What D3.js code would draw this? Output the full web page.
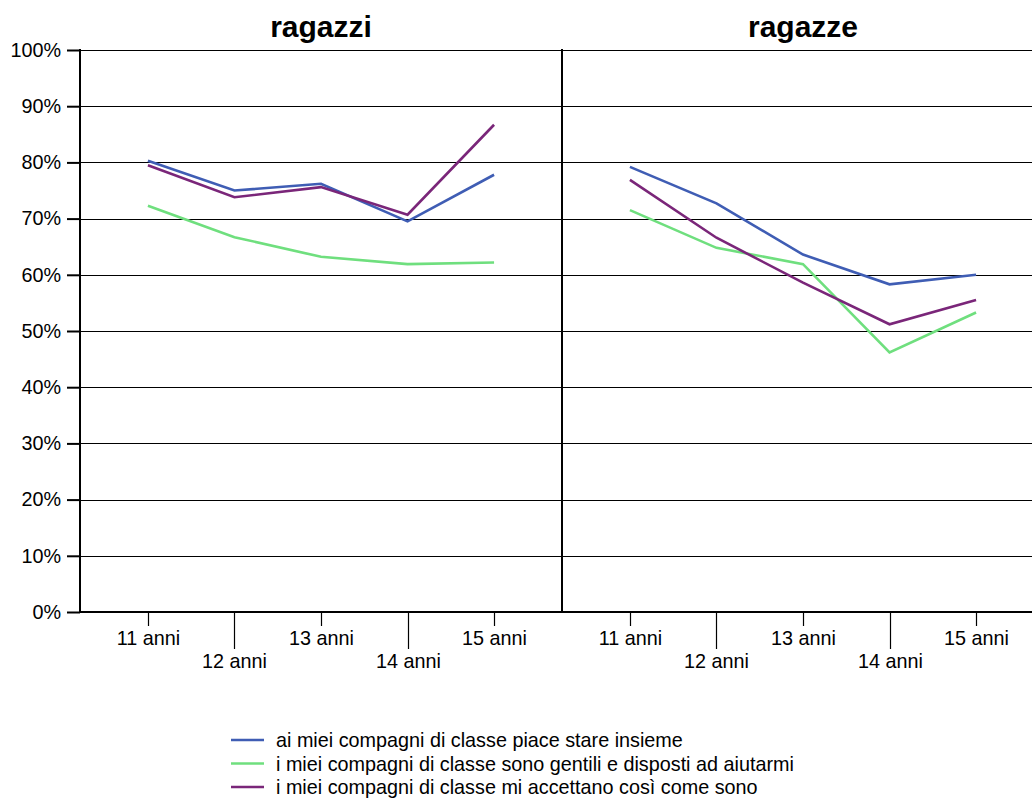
<!DOCTYPE html>
<html><head><meta charset="utf-8">
<script src="https://cdn.jsdelivr.net/npm/d3@7"></script>
<style>body{margin:0;background:#fff;overflow:hidden}text{font-family:"Liberation Sans",Arial,sans-serif;fill:#000}</style>
</head><body><svg id="c" width="1032" height="798"></svg>
<script>
const categories = ["11 anni","12 anni","13 anni","14 anni","15 anni"];
const panels = ["ragazzi","ragazze"];
const seriesNames = [
  "ai miei compagni di classe piace stare insieme",
  "i miei compagni di classe sono gentili e disposti ad aiutarmi",
  "i miei compagni di classe mi accettano così come sono"
];
const colors = ["#3f5db4","#6fdf7e","#7a2679"];
const yTicks = [0,10,20,30,40,50,60,70,80,90,100];
// ragazzi
const boysPiace    = [80.3, 75.0, 76.2, 69.5, 77.8];
const boysGentili  = [72.3, 66.7, 63.2, 61.9, 62.2];
const boysAccettano= [79.5, 73.8, 75.6, 70.7, 86.7];
// ragazze
const girlsPiace    = [79.2, 72.7, 63.6, 58.3, 60.0];
const girlsGentili  = [71.5, 64.8, 61.9, 46.2, 53.3];
const girlsAccettano= [76.9, 66.6, 58.6, 51.2, 55.5];

const data = [[boysPiace,boysGentili,boysAccettano],[girlsPiace,girlsGentili,girlsAccettano]];

const svg = d3.select("#c");
const plotTop = 50, plotBottom = 612;
const y = d3.scaleLinear().domain([0,100]).range([plotBottom, plotTop]);
const panelX = [[80,562],[562,1044]];
const fs = "19.8px";

svg.append("g").selectAll("line").data(yTicks.filter(d=>d>0)).join("line")
  .attr("x1",80).attr("x2",1032)
  .attr("y1",d=>Math.round(y(d))+0.5).attr("y2",d=>Math.round(y(d))+0.5)
  .attr("stroke","#000").attr("stroke-width",1);

const yAxis = svg.append("g").attr("transform","translate(80,0)")
  .call(d3.axisLeft(y).tickValues(yTicks).tickFormat(d=>d+"%").tickSize(13).tickPadding(6));
yAxis.select(".domain").remove();
yAxis.selectAll(".tick line").attr("stroke","#000").attr("stroke-width",2);
yAxis.selectAll("text").attr("font-size",fs).attr("font-family","Liberation Sans, Arial, sans-serif").attr("fill","#000");
svg.append("line").attr("x1",80).attr("x2",80).attr("y1",plotTop-1).attr("y2",plotBottom+1).attr("stroke","#000").attr("stroke-width",2);
svg.append("line").attr("x1",562).attr("x2",562).attr("y1",plotTop-1).attr("y2",plotBottom+1).attr("stroke","#000").attr("stroke-width",2);
svg.append("line").attr("x1",79).attr("x2",1032).attr("y1",plotBottom).attr("y2",plotBottom).attr("stroke","#000").attr("stroke-width",2);

panels.forEach((p,pi)=>{
  const x = d3.scalePoint().domain(categories).range(panelX[pi]).padding(0.785);
  const g = svg.append("g");
  const ticks = g.selectAll("g.xt").data(categories).join("g").attr("class","xt")
    .attr("transform",d=>`translate(${Math.round(x(d))+0.5},0)`);
  ticks.append("line").attr("y1",plotBottom).attr("y2",(d,i)=>i%2? 649:626)
    .attr("stroke","#000").attr("stroke-width",1.2);
  ticks.append("text").attr("y",(d,i)=>i%2? 668:645).attr("text-anchor","middle")
    .attr("font-size",fs).text(d=>d);
  g.append("text").attr("x",(panelX[pi][0]+panelX[pi][1])/2).attr("y",37)
    .attr("text-anchor","middle").attr("font-size","30px").attr("font-weight","bold").text(p);
  const line = d3.line().x((d,i)=>x(categories[i])).y(d=>y(d));
  data[pi].forEach((s,si)=>{
    g.append("path").datum(s).attr("d",line).attr("fill","none")
      .attr("stroke",colors[si]).attr("stroke-width",2.6).attr("stroke-linejoin","miter");
  });
});

const leg = svg.append("g");
seriesNames.forEach((n,i)=>{
  const cy = 740 + i*23.5;
  leg.append("line").attr("x1",231).attr("x2",264).attr("y1",cy).attr("y2",cy)
    .attr("stroke",colors[i]).attr("stroke-width",2.6);
  leg.append("text").attr("x",276).attr("y",cy+7).attr("font-size",fs).text(n);
});
</script></body></html>
